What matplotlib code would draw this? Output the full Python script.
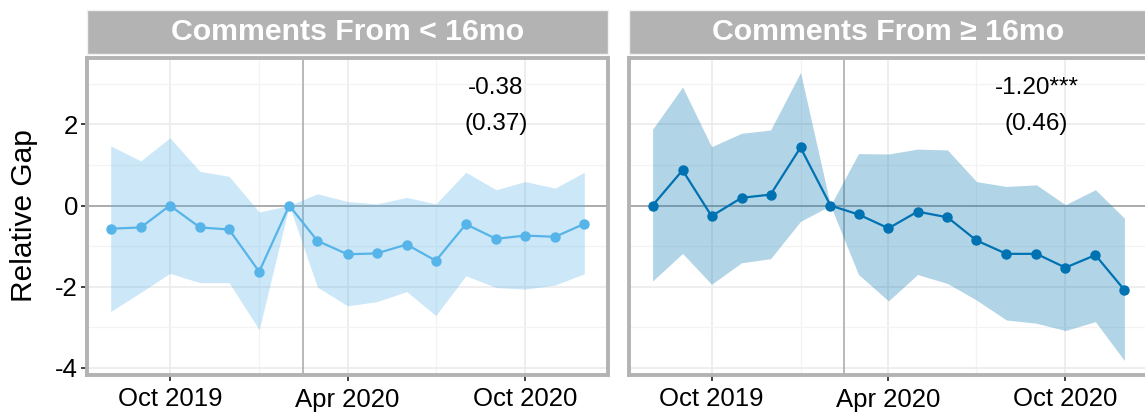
import pandas as pd
import matplotlib
matplotlib.use('Agg')
import matplotlib.pyplot as plt

plt.rcParams['font.family'] = ['Liberation Sans', 'DejaVu Sans']
plt.rcParams['axes.unicode_minus'] = False

# monthly estimates, Feb 2020 is the reference month
months = ['2019-08', '2019-09', '2019-10', '2019-11', '2019-12', '2020-01', '2020-02',
          '2020-03', '2020-04', '2020-05', '2020-06', '2020-07', '2020-08', '2020-09',
          '2020-10', '2020-11', '2020-12']

panel_titles = ['Comments From < 16mo', 'Comments From \u2265 16mo']

young_est = [-0.57, -0.54, 0.00, -0.54, -0.59, -1.63, 0.00, -0.87, -1.20, -1.18,
             -0.96, -1.36, -0.46, -0.82, -0.74, -0.77, -0.45]
young_hi = [1.47, 1.10, 1.67, 0.84, 0.72, -0.16, 0.00, 0.29, 0.10, 0.04,
            0.20, 0.04, 0.82, 0.39, 0.59, 0.43, 0.82]
young_lo = [-2.61, -2.14, -1.67, -1.90, -1.90, -3.06, 0.00, -2.01, -2.47, -2.37,
            -2.12, -2.71, -1.73, -2.02, -2.06, -1.96, -1.68]

old_est = [0.00, 0.87, -0.26, 0.19, 0.27, 1.43, 0.00, -0.22, -0.56, -0.15,
           -0.29, -0.86, -1.19, -1.19, -1.53, -1.22, -2.08]
old_hi = [1.88, 2.92, 1.45, 1.78, 1.86, 3.28, 0.00, 1.28, 1.27, 1.39,
          1.37, 0.59, 0.47, 0.51, 0.02, 0.39, -0.31]
old_lo = [-1.86, -1.18, -1.94, -1.41, -1.31, -0.39, 0.00, -1.70, -2.35, -1.70,
          -1.92, -2.33, -2.82, -2.90, -3.08, -2.86, -3.82]

est_text = ['-0.38', '-1.20***']
se_text = ['(0.37)', '(0.46)']
label_month = '2020-09'
event_date = '2020-02-15'

colors = ['#56B4E9', '#0072B2']
series = [(young_est, young_lo, young_hi), (old_est, old_lo, old_hi)]

dates = pd.to_datetime(months)
major = pd.to_datetime(['2019-10-01', '2020-04-01', '2020-10-01'])
minor = pd.to_datetime(['2020-01-01', '2020-07-01'])

W, H = 1145, 417
fig = plt.figure(figsize=(W / 100, H / 100), dpi=100)

panel_x = [(87, 608), (629, 1148)]
panel_top, panel_bot = 58, 375
strip_top, strip_bot = 10, 54

all_vals = young_lo + young_hi + old_lo + old_hi
ymin, ymax = min(all_vals), max(all_vals)
pad = 0.05 * (ymax - ymin)

for i, (x0, x1) in enumerate(panel_x):
    ax = fig.add_axes([x0 / W, 1 - panel_bot / H, (x1 - x0) / W, (panel_bot - panel_top) / H])
    est, lo, hi = series[i]
    c = colors[i]

    ax.set_axisbelow(True)
    ax.set_yticks([-4, -2, 0, 2])
    ax.set_yticks([-3, -1, 1, 3], minor=True)
    ax.set_xticks(major)
    ax.set_xticklabels([d.strftime('%b %Y') for d in major])
    ax.set_xticks(minor, minor=True)
    ax.grid(which='major', color='#ebebeb', lw=1.2)
    ax.grid(which='minor', color='#f3f3f3', lw=0.9)

    ax.axhline(0, color='#a6a6a6', lw=1.3, zorder=1)
    ax.axvline(pd.Timestamp(event_date), color='#b3b3b3', lw=1.3, zorder=1)

    ax.fill_between(dates, lo, hi, color=c, alpha=0.3, lw=0, zorder=2)
    ax.plot(dates, est, color=c, lw=1.6, marker='o', ms=6.5, zorder=3)

    span = dates[-1] - dates[0]
    ax.set_xlim(dates[0] - 0.05 * span, dates[-1] + 0.05 * span)
    ax.set_ylim(ymin - pad, ymax + pad)

    lx = pd.Timestamp(label_month)
    ax.text(lx, 2.9, est_text[i], ha='center', va='center', fontsize=17.5)
    ax.text(lx, 2.0, se_text[i], ha='center', va='center', fontsize=17.5)

    for s in ax.spines.values():
        s.set_color('#b3b3b3')
        s.set_linewidth(2.8)

    ax.tick_params(which='major', length=4.5, width=1.3, color='#333333',
                   labelsize=18.5, labelcolor='black')
    ax.tick_params(axis='x', pad=4.5)
    ax.tick_params(axis='y', pad=2)
    ax.tick_params(which='minor', length=0)
    if i > 0:
        ax.tick_params(axis='y', which='both', labelleft=False, length=0)

    sax = fig.add_axes([x0 / W, 1 - strip_bot / H, (x1 - x0) / W, (strip_bot - strip_top) / H])
    sax.set_facecolor('#b3b3b3')
    sax.set_xticks([])
    sax.set_yticks([])
    for s in sax.spines.values():
        s.set_color('#f2f2f2')
        s.set_linewidth(1)
    sax.text(0.5, 0.5, panel_titles[i], ha='center', va='center', color='white',
             fontsize=21.8, fontweight='bold', transform=sax.transAxes)

fig.text(24 / W, 1 - 216 / H, 'Relative Gap', rotation=90, ha='center', va='center',
         fontsize=21.5)

fig.savefig('out.png', dpi=100)
